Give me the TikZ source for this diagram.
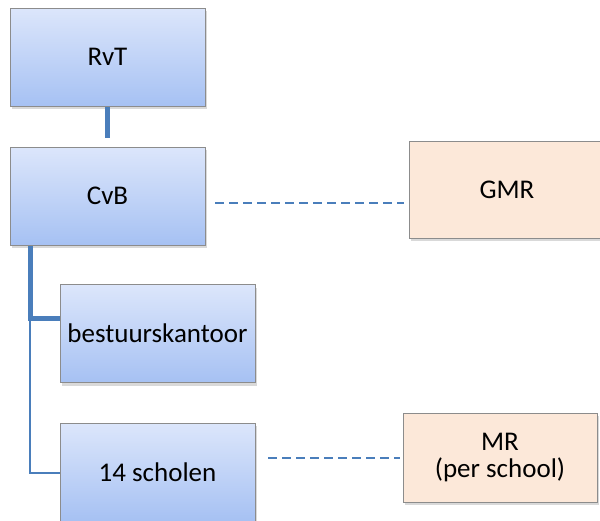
\documentclass[tikz,border=0pt]{standalone}
\usepackage{fontspec}
\setmainfont{Carlito}
\usetikzlibrary{shadows}
\definecolor{bluetop}{HTML}{DCE6FB}
\definecolor{bluebot}{HTML}{A6C1F3}
\definecolor{peach}{HTML}{FCE8D9}
\definecolor{edgegray}{HTML}{8C8C8C}
\definecolor{conn}{HTML}{4A7EBB}
\begin{document}
\begin{tikzpicture}[x=1pt,y=-1pt,
 box/.style={draw=edgegray, line width=1pt, minimum width=195pt, minimum height=98pt, inner sep=0pt,
   font=\fontsize{27}{27}\selectfont, align=center,
   drop shadow={shadow xshift=2pt, shadow yshift=-3pt, opacity=0.3}},
 bluebox/.style={box, top color=bluetop, bottom color=bluebot},
 peachbox/.style={box, fill=peach},
 thickconn/.style={draw=conn, line width=5pt},
 thinconn/.style={draw=conn, line width=2.5pt},
 dashconn/.style={draw=conn, line width=2pt, dash pattern=on 9pt off 5pt}]
\useasboundingbox (0,0) rectangle (600,520);
\clip (0,0) rectangle (600,520);
\node[bluebox] (rvt) at (107.5,57) {RvT};
\node[bluebox] (cvb) at (107.5,196) {CvB};
\node[bluebox] (bk) at (157.5,333.5) {bestuurskantoor};
\node[bluebox] (sch) at (157.5,472) {14 scholen};
\node[peachbox, minimum width=196pt, minimum height=97pt] (gmr) at (507,189.5) {GMR};
\node[peachbox, minimum width=194pt, minimum height=89pt, text depth=5pt] (mr) at (500,457.5) {MR\\(per school)};
\draw[thickconn, shorten >=9pt] (rvt.south) -- (cvb.north);
\coordinate (j1) at (30,318);
\coordinate (j2) at (30,473);
\draw[thickconn] (cvb.south -| j1) -- (j1) -- (j1 -| bk.west);
\draw[thinconn] (j1) -- (j2) -- (j2 -| sch.west);
\coordinate (d1) at (215,203);
\draw[dashconn, shorten >=5pt] (d1) -- (d1 -| gmr.west);
\coordinate (d2) at (268,458);
\draw[dashconn, shorten >=3pt] (d2) -- (d2 -| mr.west);
\end{tikzpicture}
\end{document}
